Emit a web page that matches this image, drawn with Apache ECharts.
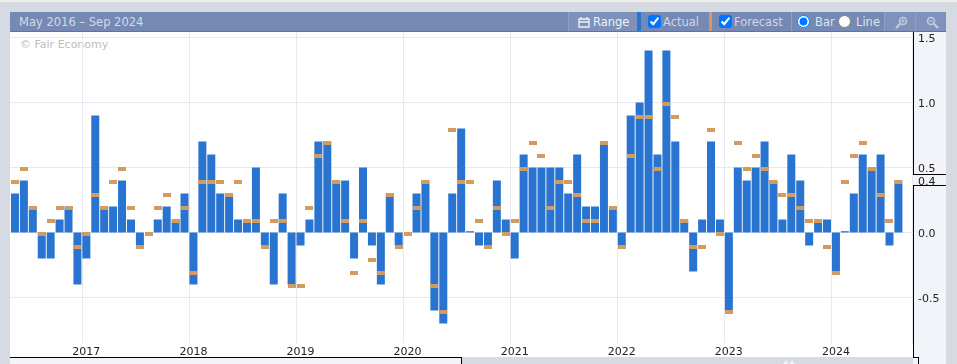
<!DOCTYPE html>
<html>
<head>
<meta charset="utf-8">
<script src="https://cdn.jsdelivr.net/npm/echarts@6/dist/echarts.min.js"></script>
<style>
html, body { margin: 0; padding: 0; width: 957px; height: 364px; overflow: hidden; background: #d6dae3; font-family: "DejaVu Sans", sans-serif; }
.box { position: absolute; }
#main { position: absolute; left: 0; top: 0; width: 957px; height: 364px; }
.label { position: absolute; top: 12px; height: 20px; line-height: 21px; font-size: 11.5px; white-space: nowrap; }
.sep { position: absolute; top: 12px; width: 1px; height: 19px; background: #8fa0c4; }
input { position: absolute; margin: 0; width: 13px; height: 13px; top: 15px; }
svg { position: absolute; }
</style>
</head>
<body>
<!-- background panels, the chart canvas sits on top of these -->
<div class="box" style="left:0;top:0;width:957px;height:2px;background:#eeeeee"></div>
<div class="box" style="left:10px;top:32px;width:903px;height:325px;background:#fff"></div>
<div class="box" style="left:913px;top:32px;width:33px;height:332px;background:#f3f4f9"></div>
<div class="box" style="left:10px;top:357px;width:451px;height:7px;background:#f3f4f9"></div>
<div class="box" style="left:20px;top:38px;font-size:11px;color:#bdbdbd">© Fair Economy</div>
<svg style="left:782px;top:359px" width="14" height="5"><path d="M1 5 L4 1 L6 5 Z M8 5 L10 1 L13 5 Z" fill="#f3f4f9"/></svg>

<div id="main"></div>

<!-- header bar -->
<div class="box" style="left:10px;top:12px;width:936px;height:19px;background:#7589b4;border-bottom:1px solid #5a73a8"></div>
<div class="box" style="left:569px;top:12px;width:68px;height:19px;background:#7e91ba"></div>
<div class="box" style="left:885px;top:12px;width:61px;height:19px;background:#8091bb"></div>
<div class="box" style="left:637px;top:12px;width:4px;height:19px;background:#2874d0"></div>
<div class="box" style="left:709px;top:12px;width:3px;height:19px;background:#d39b5e"></div>
<div class="sep" style="left:568px"></div>
<div class="sep" style="left:791px"></div>
<div class="sep" style="left:884px"></div>
<div class="sep" style="left:915px"></div>
<div class="label" style="left:19px;color:#d3d9e8">May 2016 – Sep 2024</div>
<svg style="left:578px;top:16px" width="12" height="12"><path d="M1 3h10v8H1z M1 6h10 M3 1v3 M9 1v3" fill="none" stroke="#eef1f7" stroke-width="1.3"/></svg>
<div class="label" style="left:593px;color:#eef1f7">Range</div>
<input type="checkbox" checked style="left:648px">
<div class="label" style="left:663px;color:#cfd6e6">Actual</div>
<input type="checkbox" checked style="left:719px">
<div class="label" style="left:734px;color:#cfd6e6">Forecast</div>
<input type="radio" name="kind" checked style="left:797px">
<div class="label" style="left:815px;color:#dfe4ef">Bar</div>
<input type="radio" name="kind" style="left:838px">
<div class="label" style="left:856px;color:#dfe4ef">Line</div>
<svg style="left:895px;top:16px" width="13" height="13"><circle cx="8" cy="5" r="3.5" fill="none" stroke="#c3cde0" stroke-width="1.6"/><path d="M5 8 L1 12" stroke="#c3cde0" stroke-width="2.4"/><path d="M6 5h4M8 3v4" stroke="#c3cde0"/></svg>
<svg style="left:926px;top:16px" width="13" height="13"><circle cx="5" cy="5" r="3.5" fill="none" stroke="#c3cde0" stroke-width="1.6"/><path d="M8 8 L12 12" stroke="#c3cde0" stroke-width="2.4"/><path d="M3 5h4" stroke="#c3cde0"/></svg>

<script>
var firstYear = 2016;
var firstMonth = 5;
var monthCount = 101;

var actual = [
  0.3, 0.4, 0.2, -0.2, -0.2, 0.1, 0.2, -0.4,
  -0.2, 0.9, 0.2, 0.2, 0.4, 0.1, -0.1, 0, 0.1, 0.2, 0.1, 0.3,
  -0.4, 0.7, 0.6, 0.3, 0.3, 0.1, 0.1, 0.5, -0.1, -0.4, 0.3, -0.4,
  -0.1, 0.1, 0.7, 0.7, 0.4, 0.4, -0.2, 0.5, -0.1, -0.4, 0.3, -0.1,
  0, 0.3, 0.4, -0.6, -0.7, 0.3, 0.8, 0.01, -0.1, -0.1, 0.4, 0.1,
  -0.2, 0.6, 0.5, 0.5, 0.5, 0.5, 0.3, 0.6, 0.2, 0.2, 0.7, 0.2,
  -0.1, 0.9, 1.0, 1.4, 0.6, 1.4, 0.7, 0.1, -0.3, 0.1, 0.7, 0.1,
  -0.6, 0.5, 0.4, 0.5, 0.7, 0.4, 0.1, 0.6, 0.4, -0.1, 0.1, 0.1,
  -0.3, 0.01, 0.3, 0.6, 0.5, 0.6, -0.1, 0.4, null
];
var forecast = [
  0.4, 0.5, 0.2, 0, 0.1, 0.2, 0.2, -0.1,
  0, 0.3, 0.2, 0.4, 0.5, 0.2, -0.1, 0, 0.2, 0.3, 0.1, 0.2,
  -0.3, 0.4, 0.4, 0.4, 0.3, 0.4, 0.1, 0.1, -0.1, 0.1, 0.1, -0.4,
  -0.4, 0.2, 0.6, 0.7, 0.4, 0.1, -0.3, 0.1, -0.2, -0.3, 0.3, -0.1,
  0, 0.2, 0.4, -0.4, -0.6, 0.8, 0.4, 0.4, 0.1, -0.1, 0.2, 0,
  0.1, 0.5, 0.7, 0.6, 0.2, 0.4, 0.4, 0.3, 0.1, 0.1, 0.7, 0.2,
  -0.1, 0.6, 0.9, 0.9, 0.5, 1.0, 0.9, 0.1, -0.1, -0.1, 0.8, 0,
  -0.6, 0.7, 0.5, 0.6, 0.5, 0.4, 0.3, 0.3, 0.2, 0.1, 0.1, -0.1,
  -0.3, 0.4, 0.6, 0.7, 0.5, 0.3, 0.1, 0.4, null
];
var yTicks = [-0.5, 0, 0.5, 1, 1.5];
var currentValue = 0.4;

var categories = [];
for (var i = 0; i < monthCount; i++) {
  var m = firstMonth - 1 + i;
  categories.push((firstYear + Math.floor(m / 12)) + "-" + ("0" + (m % 12 + 1)).slice(-2));
}
function isJanuary(index, value) {
  return value.slice(5) === "01";
}

// forecast dash, hangs down from its value and snaps to whole pixels
function renderForecast(params, api) {
  var value = api.value(1);
  if (value == null || isNaN(value)) return null;
  var pt = api.coord([api.value(0), value]);
  return {
    type: "rect",
    shape: { x: Math.round(pt[0] - 4), y: Math.round(pt[1]), width: 8, height: 4 },
    style: { fill: "#d39b5e" },
  };
}

var chart = echarts.init(document.getElementById("main"), null, { renderer: "canvas" });
chart.setOption({
  animation: false,
  backgroundColor: "transparent",
  grid: { left: 10.5, top: 32, width: 901.3, height: 311, containLabel: false },
  xAxis: {
    type: "category",
    data: categories,
    axisLine: { show: false },
    axisTick: { show: false },
    axisLabel: {
      interval: isJanuary,
      margin: 4,
      fontFamily: "DejaVu Sans",
      fontSize: 11,
      color: "#222",
      formatter: function (v) { return v.slice(0, 4); },
    },
    splitLine: { show: true, interval: isJanuary, lineStyle: { color: "#e8e8f0", width: 1 } },
  },
  yAxis: {
    type: "value",
    position: "right",
    min: -0.85,
    max: 1.5423,
    offset: 1.2,
    axisLine: { show: false },
    axisTick: { show: false, customValues: yTicks },
    axisLabel: {
      customValues: yTicks.concat([currentValue]),
      margin: 5,
      verticalAlign: "top",
      lineHeight: 3,
      fontFamily: "DejaVu Sans",
      fontSize: 11,
      color: function (v) { return v === currentValue ? "#5a8ed8" : "#222"; },
      formatter: function (v) { return v.toFixed(1); },
    },
    splitLine: { show: true, lineStyle: { color: "#e8e8f0", width: 1 } },
  },
  series: [
    {
      name: "Actual",
      type: "bar",
      barWidth: 8,
      itemStyle: { color: "#2874d0" },
      data: actual,
      silent: true,
    },
    {
      name: "Forecast",
      type: "custom",
      renderItem: renderForecast,
      encode: { x: 0, y: 1 },
      data: forecast.map(function (v, i) { return [i, v]; }),
      silent: true,
      z: 3,
    },
  ],
  // frame lines round the plot and the current value tag
  graphic: [
    { type: "line", shape: { x1: 913.5, y1: 32, x2: 913.5, y2: 174 }, style: { stroke: "#000", lineWidth: 1 } },
    { type: "line", shape: { x1: 913.5, y1: 186, x2: 913.5, y2: 357 }, style: { stroke: "#000", lineWidth: 1 } },
    { type: "line", shape: { x1: 913, y1: 174.5, x2: 946, y2: 174.5 }, style: { stroke: "#000", lineWidth: 1 } },
    { type: "line", shape: { x1: 913, y1: 185.5, x2: 946, y2: 185.5 }, style: { stroke: "#000", lineWidth: 1 } },
    { type: "line", shape: { x1: 913, y1: 357.5, x2: 918.5, y2: 357.5 }, style: { stroke: "#000", lineWidth: 1 } },
    { type: "line", shape: { x1: 918.5, y1: 357, x2: 918.5, y2: 364 }, style: { stroke: "#000", lineWidth: 1 } },
    { type: "line", shape: { x1: 10, y1: 357.5, x2: 462, y2: 357.5 }, style: { stroke: "#000", lineWidth: 1 } },
    { type: "line", shape: { x1: 461.5, y1: 357, x2: 461.5, y2: 364 }, style: { stroke: "#000", lineWidth: 1 } },
  ],
});
</script>
</body>
</html>
